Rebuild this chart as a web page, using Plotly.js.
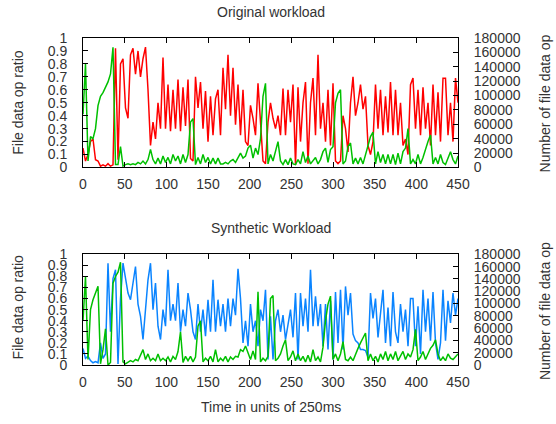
<!DOCTYPE html>
<html>
<head>
<meta charset="utf-8">
<script src="https://cdn.plot.ly/plotly-3.0.1.min.js"></script>
<style>html,body{margin:0;padding:0;background:#fff;}#chart{width:556px;height:424px;}</style>
</head>
<body>
<div id="chart"></div>
<script>
// Sample times (units of 250ms)
const timeUnits = [
  0,3,6,9,12,15,18,21,24,27,
  30,33,36,39,42,45,48,51,54,57,
  60,63,66,69,72,75,78,81,84,87,
  90,93,96,99,102,105,108,111,114,117,
  120,123,126,129,132,135,138,141,144,147,
  150,153,156,159,162,165,168,171,174,177,
  180,183,186,189,192,195,198,201,204,207,
  210,213,216,219,222,225,228,231,234,237,
  240,243,246,249,252,255,258,261,264,267,
  270,273,276,279,282,285,288,291,294,297,
  300,303,306,309,312,315,318,321,324,327,
  330,333,336,339,342,345,348,351,354,357,
  360,363,366,369,372,375,378,381,384,387,
  390,393,396,399,402,405,408,411,414,417,
  420,423,426,429,432,435,438,441,444,447,
  450
];

// Original workload: file data op ratio (left axis)
const originalRatio = [
  0.15,0.05,0.1,0.2,0.22,0.06,0.05,0.01,0.02,0.01,
  0.03,0.01,0.02,0.92,0.06,0.8,0.84,0.46,0.38,0.87,
  0.92,0.72,0.9,0.7,0.84,0.93,0.6,0.17,0.35,0.22,
  0.5,0.3,0.85,0.3,0.64,0.28,0.6,0.3,0.68,0.28,
  0.62,0.32,0.68,0.07,0.05,0.7,0.46,0.66,0.3,0.59,
  0.2,0.55,0.25,0.53,0.6,0.25,0.77,0.45,0.87,0.4,
  0.77,0.33,0.64,0.25,0.6,0.2,0.17,0.48,0.38,0.25,
  0.65,0.3,0.05,0.03,0.35,0.5,0.38,0.3,0.4,0.25,
  0.61,0.25,0.6,0.35,0.64,0.02,0.62,0.2,0.5,0.66,
  0.03,0.5,0.69,0.25,0.87,0.3,0.5,0.2,0.6,0.17,
  0.65,0.05,0.03,0.05,0.4,0.3,0.12,0.5,0.7,0.4,
  0.5,0.64,0.45,0.55,0.17,0.1,0.2,0.64,0.3,0.6,
  0.25,0.55,0.27,0.66,0.25,0.6,0.25,0.5,0.17,0.22,
  0.1,0.64,0.69,0.3,0.6,0.25,0.62,0.3,0.5,0.17,
  0.64,0.25,0.58,0.2,0.69,0.69,0.25,0.5,0.2,0.69,
  0.5
];

// Original workload: number of file data ops, thousands (right axis)
const originalCountK = [
  74,144,9,43,40,54,86,99,104,112,
  119,130,167,4,4,29,2,4,5,4,
  5,4,7,5,9,5,11,25,11,5,
  13,5,16,7,14,5,18,9,16,5,
  18,7,18,63,68,4,14,5,18,7,
  14,5,13,5,13,5,5,7,5,9,
  11,7,14,20,13,16,27,31,13,27,
  18,40,99,117,5,18,9,23,36,9,
  4,11,4,13,5,4,11,5,22,7,
  16,5,9,14,5,11,22,27,7,25,
  29,90,103,108,5,9,29,34,5,13,
  5,14,5,18,34,43,49,5,22,7,
  18,5,18,5,18,4,20,5,22,27,
  54,5,11,5,18,5,14,27,36,45,
  5,14,5,18,7,4,14,22,11,5,
  16
];

// Synthetic workload: file data op ratio (left axis)
const syntheticRatio = [
  0.15,0.06,0.08,0.04,0.02,0.03,0.02,0.2,0.06,0.1,
  0.92,0.3,0.78,0.86,0.01,0.6,0.92,0.8,0.65,0.59,
  0.75,0.89,0.55,0.44,0.23,0.5,0.77,0.92,0.5,0.74,
  0.35,0.23,0.5,0.35,0.86,0.4,0.55,0.4,0.74,0.3,
  0.5,0.35,0.65,0.5,0.3,0.23,0.55,0.3,0.5,0.26,
  0.59,0.3,0.77,0.3,0.59,0.35,0.55,0.3,0.6,0.35,
  0.6,0.45,0.87,0.6,0.2,0.4,0.17,0.55,0.3,0.4,
  0.17,0.5,0.4,0.68,0.05,0.44,0.05,0.4,0.5,0.3,
  0.45,0.23,0.35,0.5,0.25,0.65,0.05,0.65,0.35,0.6,
  0.3,0.86,0.35,0.62,0.35,0.55,0.17,0.55,0.14,0.58,
  0.05,0.66,0.2,0.68,0.14,0.71,0.45,0.65,0.28,0.22,
  0.2,0.14,0.14,0.13,0.07,0.65,0.42,0.6,0.25,0.5,
  0.68,0.2,0.52,0.17,0.66,0.3,0.2,0.55,0.3,0.5,
  0.17,0.6,0.6,0.17,0.53,0.1,0.68,0.3,0.6,0.22,
  0.66,0.2,0.05,0.2,0.68,0.22,0.58,0.38,0.65,0.45,
  0.6
];

// Synthetic workload: number of file data ops, thousands (right axis)
const syntheticCountK = [
  72,144,9,90,106,117,128,2,25,59,
  0,4,133,144,151,167,5,2,5,7,
  5,9,7,16,25,9,18,7,11,7,
  18,7,11,7,13,5,14,9,22,54,
  4,14,7,14,5,13,63,72,5,11,
  7,14,5,25,5,11,7,14,5,13,
  9,14,13,25,22,31,18,9,23,9,
  119,5,11,7,14,108,113,7,11,18,
  31,41,7,13,23,7,18,7,14,5,
  16,5,25,7,13,5,29,72,99,112,
  9,18,7,18,38,9,7,13,7,18,
  27,36,43,52,7,18,7,14,5,18,
  9,22,7,18,9,22,7,14,22,9,
  18,13,25,58,7,13,22,9,18,27,
  32,41,18,7,13,7,18,11,9,13,
  18
];

const xTicks = [0,50,100,150,200,250,300,350,400,450];
const ratioTicks = [0,0.1,0.2,0.3,0.4,0.5,0.6,0.7,0.8,0.9,1];
const countTicks = [0,20000,40000,60000,80000,100000,120000,140000,160000,180000];

const FONT = {family: '"Liberation Sans", Arial, sans-serif', size: 14, color: '#333333'};
const toCount = a => a.map(v => v * 1000);

const traces = [
  {x: timeUnits, y: originalRatio, xaxis: 'x', yaxis: 'y', type: 'scatter', mode: 'lines',
   line: {color: '#ff0000', width: 1.5}, name: 'ratio'},
  {x: timeUnits, y: toCount(originalCountK), xaxis: 'x', yaxis: 'y2', type: 'scatter', mode: 'lines',
   line: {color: '#00c000', width: 1.5}, name: 'count'},
  {x: timeUnits, y: syntheticRatio, xaxis: 'x2', yaxis: 'y3', type: 'scatter', mode: 'lines',
   line: {color: '#0a84ff', width: 1.5}, name: 'ratio'},
  {x: timeUnits, y: toCount(syntheticCountK), xaxis: 'x2', yaxis: 'y4', type: 'scatter', mode: 'lines',
   line: {color: '#00c000', width: 1.5}, name: 'count'}
];

const xBase = {
  range: [0, 450], tickmode: 'array', tickvals: xTicks, ticks: 'inside', ticklen: 5,
  tickcolor: '#000', showline: true, linecolor: '#000', linewidth: 1, mirror: 'ticks',
  showgrid: false, zeroline: false, tickfont: FONT, ticklabelstandoff: 4, fixedrange: true
};
const yLeft = {
  range: [0, 1], tickmode: 'array', tickvals: ratioTicks, ticks: 'inside', ticklen: 5,
  tickcolor: '#000', showline: true, linecolor: '#000', linewidth: 1, mirror: false,
  showgrid: false, zeroline: false, tickfont: FONT, ticklabelstandoff: 12, fixedrange: true
};
const yRight = {
  range: [0, 180000], tickmode: 'array', tickvals: countTicks, tickformat: 'd', ticks: 'inside', ticklen: 5,
  tickcolor: '#000', showline: true, linecolor: '#000', linewidth: 1, side: 'right',
  showgrid: false, zeroline: false, tickfont: FONT, ticklabelstandoff: 12, fixedrange: true
};

const layout = {
  width: 556, height: 424,
  margin: {l: 83, r: 98, t: 38, b: 59},
  paper_bgcolor: '#ffffff', plot_bgcolor: '#ffffff',
  showlegend: false,
  font: FONT,
  xaxis: Object.assign({}, xBase, {anchor: 'y', domain: [0, 1]}),
  xaxis2: Object.assign({}, xBase, {anchor: 'y3', domain: [0, 1]}),
  yaxis: Object.assign({}, yLeft, {anchor: 'x', domain: [0.604, 1]}),
  yaxis2: Object.assign({}, yRight, {anchor: 'x', overlaying: 'y'}),
  yaxis3: Object.assign({}, yLeft, {anchor: 'x2', domain: [0, 0.3385]}),
  yaxis4: Object.assign({}, yRight, {anchor: 'x2', overlaying: 'y3'}),
  annotations: [
    {text: 'Original workload', xref: 'paper', yref: 'paper', x: 0.5, y: 1.0795, xanchor: 'center', yanchor: 'middle', showarrow: false, font: FONT},
    {text: 'Synthetic Workload', xref: 'paper', yref: 'paper', x: 0.5, y: 0.42, xanchor: 'center', yanchor: 'middle', showarrow: false, font: FONT},
    {text: 'Time in units of 250ms', xref: 'paper', yref: 'paper', x: 0.5, y: -0.1275, xanchor: 'center', yanchor: 'middle', showarrow: false, font: FONT},
    {text: 'File data op ratio', xref: 'paper', yref: 'paper', x: -0.1733, y: 0.802, xanchor: 'center', yanchor: 'middle', textangle: -90, showarrow: false, font: FONT},
    {text: 'File data op ratio', xref: 'paper', yref: 'paper', x: -0.1733, y: 0.176, xanchor: 'center', yanchor: 'middle', textangle: -90, showarrow: false, font: FONT},
    {text: 'Number of file data op', xref: 'paper', yref: 'paper', x: 1.232, y: 0.80, xanchor: 'center', yanchor: 'middle', textangle: -90, showarrow: false, font: FONT},
    {text: 'Number of file data op', xref: 'paper', yref: 'paper', x: 1.232, y: 0.165, xanchor: 'center', yanchor: 'middle', textangle: -90, showarrow: false, font: FONT}
  ]
};

Plotly.newPlot('chart', traces, layout, {staticPlot: true, displayModeBar: false});
</script>
</body>
</html>
